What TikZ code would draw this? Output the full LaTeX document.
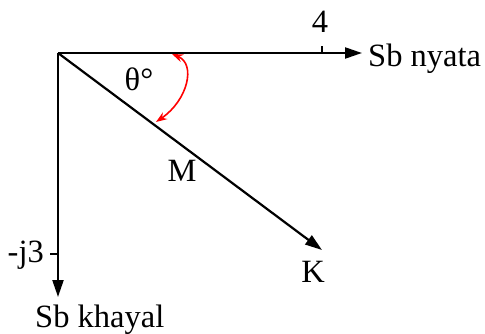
\documentclass[tikz,border=0pt]{standalone}
\usepackage{fontspec}
\setmainfont{Liberation Serif}
\usetikzlibrary{arrows.meta}
\begin{document}
\begin{tikzpicture}[x=1pt,y=-1pt,
  axis/.style={line width=2.2pt,-{Triangle[length=17pt,width=11pt]}},
  lbl/.style={inner sep=0pt,font=\fontsize{32.5}{38}\selectfont},
  redarc/.style={red,line width=1.6pt,{Stealth[length=11pt,width=8pt]}-{Stealth[length=11pt,width=8pt]}}]
\useasboundingbox (0,0) rectangle (485,334);
\coordinate (O) at (58,53);
\coordinate (X) at (362,53);
\coordinate (Y) at (58,297);
\coordinate (Kt) at (322,250);
\coordinate (t4) at (322,53);
\coordinate (tj) at (58,254);
\coordinate (a1) at (172,54);
\coordinate (a2) at (156,122);
\draw[axis] (O) -- (X);
\draw[axis] (O) -- (Y);
\draw[axis] (O) -- (Kt);
\draw[line width=1.5pt] (t4) -- ++(0,-7);
\draw[line width=1.5pt] (tj) -- ++(-8,0);
\draw[redarc] (a1) .. controls (196,64) and (188,100) .. (a2);
\node[lbl,anchor=base] (n4) at (320,33) {4};
\node[lbl,anchor=base west] (nx) at (368,67) {Sb nyata};
\node[lbl,anchor=base west] (ny) at (35,327) {Sb khayal};
\node[lbl,anchor=base east] (nj) at (44,262) {-j3};
\node[lbl,anchor=base] (nm) at (182,182) {M};
\node[lbl,anchor=base] (nk) at (313,282) {K};
\node[lbl,anchor=base] (nt) at (139,91) {θ°};
\end{tikzpicture}
\end{document}
